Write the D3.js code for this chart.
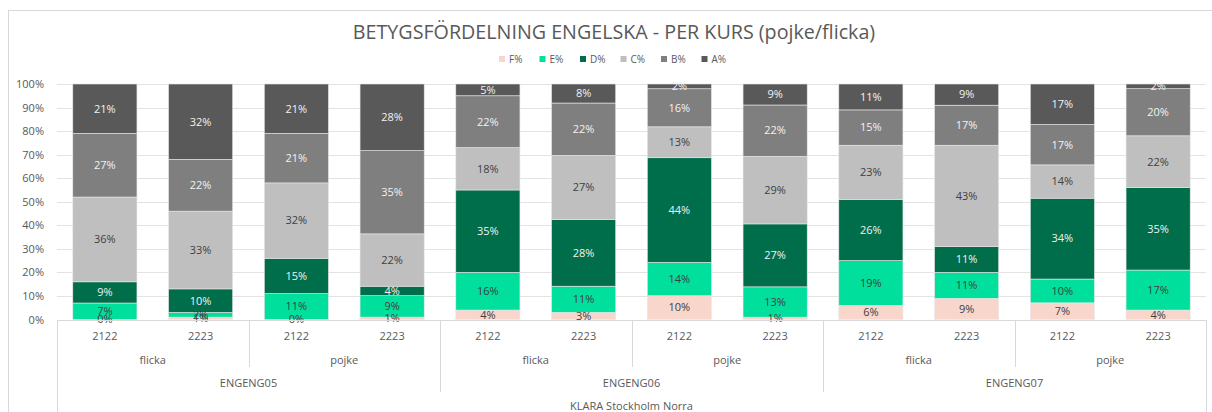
<!DOCTYPE html>
<html>
<head>
<meta charset="utf-8">
<script src="https://cdn.jsdelivr.net/npm/d3@7"></script>
<style>
  body { margin: 0; background: #fff; }
  text { font-family: "Open Sans", "Noto Sans", sans-serif; }
</style>
</head>
<body>
<div id="chart"></div>
<script>
// data
var courses = ["ENGENG05", "ENGENG06", "ENGENG07"];
var genders = ["flicka", "pojke"];
var years = ["2122", "2223"];
var school = "KLARA Stockholm Norra";
var grades = ["F%", "E%", "D%", "C%", "B%", "A%"];
// one value per bar, order: 05 flicka 2122, 05 flicka 2223, 05 pojke 2122, ...
var F = [0, 1, 0, 1, 4, 3, 10, 1, 6, 9, 7, 4];
var E = [7, 2, 11, 9, 16, 11, 14, 13, 19, 11, 10, 17];
var D = [9, 10, 15, 4, 35, 28, 44, 27, 26, 11, 34, 35];
var C = [36, 33, 32, 22, 18, 27, 13, 29, 23, 43, 14, 22];
var B = [27, 22, 21, 35, 22, 22, 16, 22, 15, 17, 17, 20];
var A = [21, 32, 21, 28, 5, 8, 2, 9, 11, 9, 17, 2];
var yTicks = [0, 0.1, 0.2, 0.3, 0.4, 0.5, 0.6, 0.7, 0.8, 0.9, 1];

var colors = ["#f8d6cc", "#00df9c", "#006e4a", "#bfbfbf", "#7f7f7f", "#595959"];
var labelColors = ["#404040", "#404040", "#f2f2f2", "#404040", "#f2f2f2", "#f2f2f2"];

var width = 1212, height = 412;
var svg = d3.select("#chart").append("svg")
    .attr("width", width)
    .attr("height", height);

// outer chart border
svg.append("rect")
    .attr("x", 8.5).attr("y", 10.5)
    .attr("width", 1220).attr("height", 420)
    .attr("fill", "none")
    .attr("stroke", "#d9d9d9");

// build rows
var rows = [];
courses.forEach(function(c) {
  genders.forEach(function(g) {
    years.forEach(function(y) {
      var i = rows.length;
      rows.push({course: c, gender: g, year: y, i: i,
        "F%": F[i], "E%": E[i], "D%": D[i], "C%": C[i], "B%": B[i], "A%": A[i]});
    });
  });
});

var x = d3.scaleBand()
    .domain(rows.map(function(d) { return d.i; }))
    .range([57, 1206])
    .paddingInner(0.33)
    .paddingOuter(0.165);

var y = d3.scaleLinear()
    .domain([0, 1])
    .range([319.5, 84]);

var z = d3.scaleOrdinal().domain(grades).range(colors);

var stack = d3.stack().keys(grades).offset(d3.stackOffsetExpand);
var series = stack(rows);

// gridlines
svg.append("g")
  .selectAll("line")
  .data(yTicks.slice(1))
  .enter().append("line")
    .attr("x1", 57).attr("x2", 1206)
    .attr("y1", function(d) { return Math.round(y(d)) + 0.5; })
    .attr("y2", function(d) { return Math.round(y(d)) + 0.5; })
    .attr("stroke", "#e3e3e3");

// y axis labels
var yAxis = svg.append("g")
    .attr("transform", "translate(47,0)")
    .call(d3.axisLeft(y).tickValues(yTicks).tickFormat(d3.format(".0%")).tickSize(0));
yAxis.select(".domain").remove();
yAxis.selectAll("text")
    .attr("fill", "#595959")
    .attr("font-size", 11)
    .style("font-family", "'Open Sans', sans-serif");

// bars
var layer = svg.append("g")
  .selectAll("g")
  .data(series)
  .enter().append("g")
    .attr("fill", function(d) { return z(d.key); });

layer.selectAll("rect")
  .data(function(d) { return d; })
  .enter().append("rect")
    .attr("x", function(d) { return x(d.data.i); })
    .attr("y", function(d) { return y(d[1]); })
    .attr("width", x.bandwidth())
    .attr("height", function(d) { return y(d[0]) - y(d[1]); })
    .attr("stroke", "#e8e8e8")
    .attr("stroke-width", 0.6);

// value labels
series.forEach(function(s, k) {
  svg.append("g")
    .selectAll("text")
    .data(s)
    .enter().append("text")
      .attr("x", function(d) { return x(d.data.i) + x.bandwidth() / 2; })
      .attr("y", function(d) { return y((d[0] + d[1]) / 2); })
      .attr("dy", "0.35em")
      .attr("text-anchor", "middle")
      .attr("font-size", 11)
      .attr("fill", labelColors[k])
      .text(function(d) { return d.data[s.key] + "%"; });
});

// category axis (multi level)
var axisColor = "#d9d9d9", textColor = "#595959";
var ax = svg.append("g");
ax.append("line")
    .attr("x1", 57).attr("x2", 1206.5)
    .attr("y1", 320.5).attr("y2", 320.5)
    .attr("stroke", axisColor);

var step = x.step();
var x0 = x.range()[0];
function edge(i) { return Math.round(x0 + i * step) + 0.5; }

// outer edges
[0, rows.length].forEach(function(i) {
  ax.append("line")
    .attr("x1", edge(i)).attr("x2", edge(i))
    .attr("y1", 320).attr("y2", 412)
    .attr("stroke", axisColor);
});
// course separators
d3.range(1, courses.length).forEach(function(c) {
  var i = c * genders.length * years.length;
  ax.append("line")
    .attr("x1", edge(i)).attr("x2", edge(i))
    .attr("y1", 320).attr("y2", 392)
    .attr("stroke", axisColor);
});
// gender separators
d3.range(courses.length).forEach(function(c) {
  var i = c * genders.length * years.length + years.length;
  ax.append("line")
    .attr("x1", edge(i)).attr("x2", edge(i))
    .attr("y1", 320).attr("y2", 367)
    .attr("stroke", axisColor);
});

ax.append("g").selectAll("text")
  .data(rows)
  .enter().append("text")
    .attr("x", function(d) { return x(d.i) + x.bandwidth() / 2; })
    .attr("y", 340)
    .attr("text-anchor", "middle")
    .attr("font-size", 11)
    .attr("fill", textColor)
    .text(function(d) { return d.year; });

var genderCells = [];
courses.forEach(function(c, ci) {
  genders.forEach(function(g, gi) {
    var i = (ci * genders.length + gi) * years.length;
    genderCells.push({label: g, mid: x0 + (i + years.length / 2) * step});
  });
});
ax.append("g").selectAll("text")
  .data(genderCells)
  .enter().append("text")
    .attr("x", function(d) { return d.mid; })
    .attr("y", 364)
    .attr("text-anchor", "middle")
    .attr("font-size", 11)
    .attr("fill", textColor)
    .text(function(d) { return d.label; });

var n = genders.length * years.length;
ax.append("g").selectAll("text")
  .data(courses)
  .enter().append("text")
    .attr("x", function(d, i) { return x0 + (i + 0.5) * n * step; })
    .attr("y", 387)
    .attr("text-anchor", "middle")
    .attr("font-size", 11)
    .attr("fill", textColor)
    .text(function(d) { return d; });

ax.append("text")
    .attr("x", (57 + 1206) / 2)
    .attr("y", 410)
    .attr("text-anchor", "middle")
    .attr("font-size", 11)
    .attr("fill", textColor)
    .text(school);

// title
svg.append("text")
    .attr("x", 614)
    .attr("y", 39)
    .attr("text-anchor", "middle")
    .attr("font-size", 19.7)
    .attr("fill", "#595959")
    .text("BETYGSFÖRDELNING ENGELSKA - PER KURS (pojke/flicka)");

// legend
var legend = svg.append("g")
    .attr("font-size", 10)
  .selectAll("g")
  .data(grades)
  .enter().append("g")
    .attr("transform", function(d, i) { return "translate(" + (499 + i * 40.5) + ",56)"; });

legend.append("rect")
    .attr("width", 6)
    .attr("height", 6)
    .attr("fill", z);

legend.append("text")
    .attr("x", 10)
    .attr("y", 3)
    .attr("dy", "0.35em")
    .attr("fill", "#595959")
    .text(function(d) { return d; });
</script>
</body>
</html>
